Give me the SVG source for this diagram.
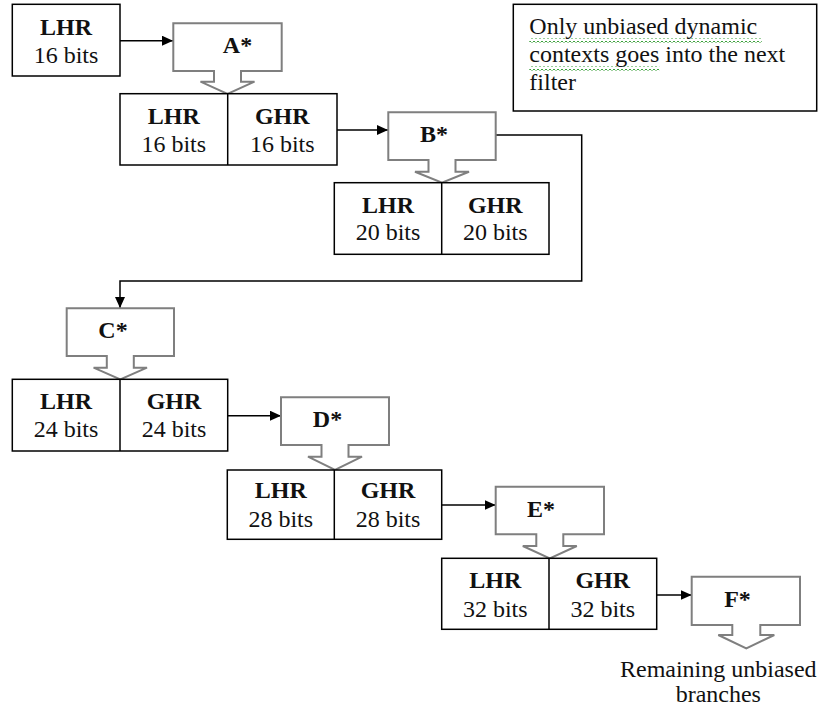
<svg xmlns="http://www.w3.org/2000/svg" width="818" height="710" viewBox="0 0 818 710">
<style>
.box{fill:#fff;stroke:#000;stroke-width:1.5}
.div{stroke:#000;stroke-width:1.5}
.filt{fill:#fff;stroke:#7f7f7f;stroke-width:2;stroke-linejoin:miter}
.con{fill:none;stroke:#000;stroke-width:1.5}
text{font-family:"Liberation Serif","Times New Roman",serif;font-size:24px;fill:#111;text-anchor:middle}
.b{font-weight:bold}
.l{text-anchor:start}
</style>
<defs>
<marker id="ah" markerUnits="userSpaceOnUse" markerWidth="12" markerHeight="10" refX="11" refY="5" orient="auto">
<path d="M0,0 L11,5 L0,10 Z" fill="#000"/>
</marker>
<pattern id="sq" width="4" height="4" patternUnits="userSpaceOnUse">
<path d="M0,3 L2,1 L4,3" stroke="#3aa03a" stroke-width="1" fill="none"/>
</pattern>
</defs>

<g id="connectors">
<line class="con" x1="120" y1="40.7" x2="173" y2="40.7" marker-end="url(#ah)"/>
<line class="con" x1="337" y1="130" x2="388" y2="130" marker-end="url(#ah)"/>
<polyline class="con" points="495.7,135 581.7,135 581.7,281 120,281 120,308" marker-end="url(#ah)"/>
<line class="con" x1="227.7" y1="415.7" x2="281" y2="415.7" marker-end="url(#ah)"/>
<line class="con" x1="441.7" y1="505" x2="495.7" y2="505" marker-end="url(#ah)"/>
<line class="con" x1="656.7" y1="595" x2="691.7" y2="595" marker-end="url(#ah)"/>
</g>

<g id="lhr16">
<rect class="box" x="12.3" y="4.3" width="107.7" height="71.7"/>
<text class="b" x="66" y="35">LHR</text>
<text x="66" y="63.3">16 bits</text>
</g>

<g id="filterA">
<path class="filt" d="M173.3,23.3 H281.7 V71 H241 V81.7 H254.5 L227.5,94 L200.5,81.7 H214 V71 H173.3 Z"/>
<text class="b" x="237.5" y="53.3">A*</text>
</g>

<g id="ctx16">
<rect class="box" x="120" y="93.7" width="217" height="71.3"/>
<line class="div" x1="227.7" y1="93.7" x2="227.7" y2="165"/>
<text class="b" x="173.8" y="124">LHR</text>
<text x="173.8" y="151.7">16 bits</text>
<text class="b" x="282.3" y="124">GHR</text>
<text x="282.3" y="151.7">16 bits</text>
</g>

<g id="filterB">
<path class="filt" d="M388.3,112.3 H495.7 V160 H455.5 V171.7 H469 L442,182.7 L415,171.7 H428.5 V160 H388.3 Z"/>
<text class="b" x="434" y="141.7">B*</text>
</g>

<g id="ctx20">
<rect class="box" x="334.3" y="182.7" width="214.7" height="71.6"/>
<line class="div" x1="441.7" y1="182.7" x2="441.7" y2="254.3"/>
<text class="b" x="388" y="213.3">LHR</text>
<text x="388" y="240">20 bits</text>
<text class="b" x="495.3" y="213.3">GHR</text>
<text x="495.3" y="240">20 bits</text>
</g>

<g id="filterC">
<path class="filt" d="M66.7,308.3 H174 V356 H133.8 V367.7 H147 L120.3,379.3 L93.6,367.7 H106.8 V356 H66.7 Z"/>
<text class="b" x="113" y="338.3">C*</text>
</g>

<g id="ctx24">
<rect class="box" x="12.3" y="379.3" width="215.4" height="71.7"/>
<line class="div" x1="120" y1="379.3" x2="120" y2="451"/>
<text class="b" x="66" y="409.3">LHR</text>
<text x="66" y="436.7">24 bits</text>
<text class="b" x="174" y="409.3">GHR</text>
<text x="174" y="436.7">24 bits</text>
</g>

<g id="filterD">
<path class="filt" d="M281,397.3 H389 V445 H348.5 V456.7 H362 L335,470 L308,456.7 H321.5 V445 H281 Z"/>
<text class="b" x="327.5" y="426.7">D*</text>
</g>

<g id="ctx28">
<rect class="box" x="227.3" y="470" width="214.4" height="69.3"/>
<line class="div" x1="334.3" y1="470" x2="334.3" y2="539.3"/>
<text class="b" x="280.8" y="498.3">LHR</text>
<text x="280.8" y="526.7">28 bits</text>
<text class="b" x="388" y="498.3">GHR</text>
<text x="388" y="526.7">28 bits</text>
</g>

<g id="filterE">
<path class="filt" d="M495.7,486.7 H604 V534.3 H563.3 V546 H576.8 L549.8,558.3 L522.8,546 H536.3 V534.3 H495.7 Z"/>
<text class="b" x="541" y="516.7">E*</text>
</g>

<g id="ctx32">
<rect class="box" x="441.7" y="558.3" width="215" height="71"/>
<line class="div" x1="549" y1="558.3" x2="549" y2="629.3"/>
<text class="b" x="495.3" y="588.3">LHR</text>
<text x="495.3" y="616.7">32 bits</text>
<text class="b" x="602.8" y="588.3">GHR</text>
<text x="602.8" y="616.7">32 bits</text>
</g>

<g id="filterF">
<path class="filt" d="M691.7,576.7 H800 V625 H760.3 V635 H774.3 L746.3,648.3 L718.3,635 H732.3 V625 H691.7 Z"/>
<text class="b" x="737.5" y="606.7">F*</text>
</g>

<g id="remaining">
<text x="718.3" y="676.7">Remaining unbiased</text>
<text x="718.3" y="702.3">branches</text>
</g>

<g id="note">
<rect class="box" x="513.3" y="4.3" width="303.4" height="106.7"/>
<rect x="529.3" y="38.5" width="232.4" height="4" fill="url(#sq)"/>
<rect x="529.3" y="66.5" width="130" height="4" fill="url(#sq)"/>
<text class="l" x="529.3" y="34.3">Only unbiased dynamic</text>
<text class="l" x="529.3" y="62.3">contexts goes into the next</text>
<text class="l" x="529.3" y="90">filter</text>
</g>
</svg>
